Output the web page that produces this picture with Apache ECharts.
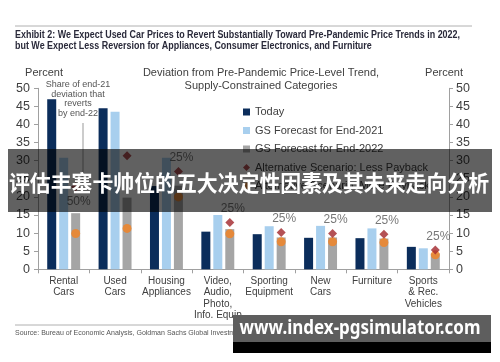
<!DOCTYPE html>
<html><head><meta charset="utf-8">
<script src="https://cdn.jsdelivr.net/npm/echarts@6/dist/echarts.min.js"></script>
<style>html,body{margin:0;padding:0;background:#fff}#c{width:500px;height:362px}</style>
</head><body><div id="c"></div>
<script>
const categories = ['Rental\nCars','Used\nCars','Housing\nAppliances','Video,\nAudio,\nPhoto,\nInfo. Equip','Sporting\nEquipment','New\nCars','Furniture','Sports\n& Rec.\nVehicles'];
const today = [47.0, 44.5, 23.0, 10.4, 9.7, 8.7, 8.6, 6.2];
const forecast2021 = [30.8, 43.5, 30.8, 15.0, 11.9, 12.0, 11.3, 5.8];
const forecast2022 = [15.5, 19.8, 23.1, 11.1, 8.8, 8.8, 8.5, 4.4];
const lessPayback = [22.8, 31.4, 27.0, 12.9, 10.2, 9.9, 9.7, 5.3];
const morePayback = [9.9, 11.3, 20.0, 9.8, 7.6, 7.6, 7.4, 4.0];
const revertShare = ['50%', '', '25%', '25%', '25%', '25%', '25%', '25%'];
const seriesNames = ['Today', 'GS Forecast for End-2021', 'GS Forecast for End-2022', 'Alternative Scenario: Less Payback', 'Alternative Scenario: More Payback'];
const titleLines = ['Exhibit 2: We Expect Used Car Prices to Revert Substantially Toward Pre-Pandemic Price Trends in 2022,', 'but We Expect Less Reversion for Appliances, Consumer Electronics, and Furniture'];
const chartTitle = 'Deviation from Pre-Pandemic Price-Level Trend,\nSupply-Constrained Categories';
const annotation = 'Share of end-21\ndeviation that\nreverts\nby end-22';
const sourceText = 'Source: Bureau of Economic Analysis, Goldman Sachs Global Investment Research';
const bannerText = '评估丰塞卡帅位的五大决定性因素及其未来走向分析';
const watermarkText = 'www.index-pgsimulator.com';

const F = "'Liberation Sans', Arial, sans-serif";
const axisCol = '#a0a0a0';
const txtCol = '#404040';

const ctx = document.createElement('canvas').getContext('2d');
function fitScale(text, font, target) {
  ctx.font = font;
  return target / ctx.measureText(text).width;
}
const titleFont = 'bold 10.5px ' + F;
const titleScale = fitScale(titleLines[0], titleFont, 445);
const sourceFont = '7px ' + F;
const sourceScale = fitScale(sourceText, sourceFont, 262);
const bannerFont = 'bold 22px "Noto Sans CJK SC", sans-serif';
const bannerScale = fitScale(bannerText, bannerFont, 480);
const wmFont = 'bold 19px "Noto Sans", sans-serif';
const wmScale = fitScale(watermarkText, wmFont, 241);

const chart = echarts.init(document.getElementById('c'), null, {renderer: 'canvas'});
const yAxisBase = {
  type: 'value', min: 0, max: 50, interval: 5,
  axisLine: {show: true, lineStyle: {color: axisCol}},
  axisTick: {show: true, length: 4, lineStyle: {color: axisCol}},
  splitLine: {show: false},
  axisLabel: {color: txtCol, fontSize: 12.5, fontFamily: F, margin: 8}
};
const option = {
  animation: false,
  backgroundColor: '#fff',
  grid: {left: 38, right: 51, top: 88.3, bottom: 92.7},
  legend: {
    orient: 'vertical', left: 238, top: 100, itemWidth: 7, itemHeight: 7, itemGap: 4.5,
    textStyle: {fontSize: 11, fontFamily: F, color: txtCol, lineHeight: 14},
    data: [
      {name: seriesNames[0], icon: 'rect'},
      {name: seriesNames[1], icon: 'rect'},
      {name: seriesNames[2], icon: 'rect'},
      {name: seriesNames[3], icon: 'diamond'},
      {name: seriesNames[4], icon: 'circle'}
    ]
  },
  xAxis: {
    type: 'category', data: categories,
    axisLine: {lineStyle: {color: axisCol}},
    axisTick: {show: true, length: 4, lineStyle: {color: axisCol}},
    axisLabel: {color: txtCol, fontSize: 10, fontFamily: F, lineHeight: 11.5, margin: 6, interval: 0}
  },
  yAxis: [
    Object.assign({}, yAxisBase, {position: 'left'}),
    Object.assign({}, yAxisBase, {position: 'right', axisLabel: Object.assign({}, yAxisBase.axisLabel, {margin: 7})})
  ],
  series: [
    {name: seriesNames[0], type: 'bar', data: today, barWidth: 9, barGap: '33%', itemStyle: {color: '#0b2d5b'}},
    {name: seriesNames[1], type: 'bar', data: forecast2021, barWidth: 9, barGap: '33%', itemStyle: {color: '#a8cfee'}},
    {name: seriesNames[2], type: 'bar', data: forecast2022, barWidth: 9, barGap: '33%', itemStyle: {color: '#a5a5a5'}},
    {name: seriesNames[3], type: 'scatter', symbol: 'diamond', symbolSize: 9, symbolOffset: [12, 0], z: 5,
      itemStyle: {color: '#a1262b'},
      data: lessPayback.map((v, i) => ({
        value: v,
        label: {show: revertShare[i] !== '', formatter: revertShare[i],
          position: i === 0 ? 'bottom' : 'top', distance: i === 0 ? 4 : 3, offset: [3, 0],
          fontSize: 12, fontFamily: F, color: '#555'}
      }))
    },
    {name: seriesNames[4], type: 'scatter', symbol: 'circle', symbolSize: 9, symbolOffset: [12, 0], z: 4,
      itemStyle: {color: '#f5821f'}, data: morePayback}
  ],
  graphic: [
    {type: 'line', shape: {x1: 15, y1: 26, x2: 472, y2: 26}, style: {stroke: '#b0b0b0', lineWidth: 1}},
    {type: 'text', x: 15, y: 30, scaleX: titleScale, style: {text: titleLines.join('\n'), font: titleFont, fill: '#2a2a3a', lineHeight: 11}},
    {type: 'text', x: 261, y: 67, style: {text: chartTitle, font: '11px ' + F, fill: txtCol, textAlign: 'center', lineHeight: 12.5}},
    {type: 'text', x: 44, y: 67, style: {text: 'Percent', font: '11px ' + F, fill: txtCol, textAlign: 'center'}},
    {type: 'text', x: 444, y: 67, style: {text: 'Percent', font: '11px ' + F, fill: txtCol, textAlign: 'center'}},
    {type: 'text', x: 78, y: 80, style: {text: annotation, font: '9px ' + F, fill: '#555', textAlign: 'center', lineHeight: 9.5}},
    {type: 'line', shape: {x1: 83, y1: 123, x2: 83, y2: 192}, style: {stroke: '#999', lineWidth: 1}},
    {type: 'line', shape: {x1: 15, y1: 325, x2: 472, y2: 325}, style: {stroke: '#b0b0b0', lineWidth: 1}},
    {type: 'text', x: 15, y: 330, scaleX: sourceScale, style: {text: sourceText, font: sourceFont, fill: '#555'}},
    {type: 'rect', z: 100, shape: {x: 8, y: 149, width: 484, height: 63}, style: {fill: 'rgba(0,0,0,0.62)'}},
    {type: 'text', z: 101, x: 249, y: 183, scaleX: bannerScale, style: {text: bannerText, font: bannerFont, fill: '#fff', textAlign: 'center', textVerticalAlign: 'middle'}},
    {type: 'rect', z: 100, shape: {x: 233, y: 315, width: 258, height: 27}, style: {fill: '#5e5e5e'}},
    {type: 'rect', z: 100, shape: {x: 233, y: 342, width: 258, height: 11}, style: {fill: '#000'}},
    {type: 'text', z: 101, x: 360, y: 329, scaleX: wmScale, style: {text: watermarkText, font: wmFont, fill: '#fff', textAlign: 'center', textVerticalAlign: 'middle'}}
  ]
};
chart.setOption(option);
</script></body></html>
